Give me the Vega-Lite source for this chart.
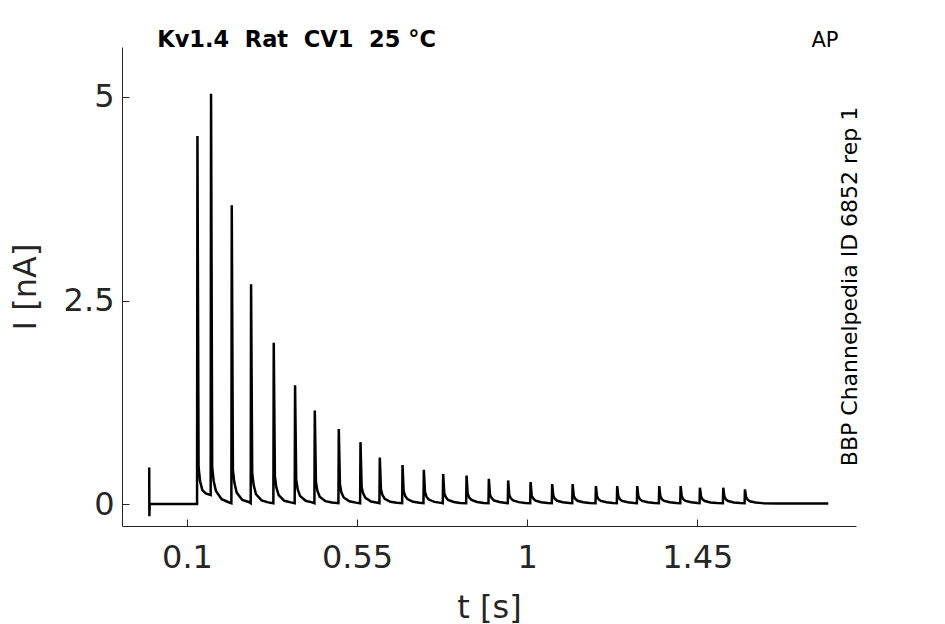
{
  "$schema": "https://vega.github.io/schema/vega-lite/v6.json",
  "autosize": {"type": "none"},
  "width": 734,
  "height": 479,
  "padding": {"left": 122, "top": 47, "right": 89, "bottom": 98},
  "background": "white",
  "config": {
    "view": {"stroke": null},
    "font": "DejaVu Sans",
    "axis": {
      "grid": false,
      "domainColor": "#262626",
      "domainWidth": 1,
      "tickColor": "#262626",
      "tickSize": -7,
      "tickWidth": 1,
      "labelColor": "#262626",
      "labelFont": "DejaVu Sans",
      "labelFontSize": 32,
      "titleFont": "DejaVu Sans",
      "titleFontSize": 32,
      "titleFontWeight": "normal",
      "titleColor": "#262626"
    }
  },
  "layer": [
    {
      "data": {"values": [
        {"t": 0.0, "i": 0.45}, {"t": 0.0004, "i": -0.15}, {"t": 0.0012, "i": 0.0},
        {"t": 0.1266, "i": 0.0},
        {"t": 0.1276, "i": 4.52}, {"t": 0.1306, "i": 0.45}, {"t": 0.1346, "i": 0.28}, {"t": 0.1406, "i": 0.17}, {"t": 0.1496, "i": 0.13}, {"t": 0.1626, "i": 0.11},
        {"t": 0.1636, "i": 5.04}, {"t": 0.1666, "i": 0.45}, {"t": 0.1706, "i": 0.28}, {"t": 0.1766, "i": 0.16}, {"t": 0.1916, "i": 0.06}, {"t": 0.2086, "i": 0.025}, {"t": 0.2174, "i": 0.01},
        {"t": 0.2184, "i": 3.67}, {"t": 0.2214, "i": 0.42}, {"t": 0.2254, "i": 0.26}, {"t": 0.2314, "i": 0.14}, {"t": 0.2464, "i": 0.05}, {"t": 0.2634, "i": 0.025}, {"t": 0.2685, "i": 0.01},
        {"t": 0.2695, "i": 2.70}, {"t": 0.2725, "i": 0.38}, {"t": 0.2765, "i": 0.23}, {"t": 0.2825, "i": 0.12}, {"t": 0.2975, "i": 0.045}, {"t": 0.3145, "i": 0.02}, {"t": 0.3285, "i": 0.01},
        {"t": 0.3295, "i": 1.98}, {"t": 0.3325, "i": 0.34}, {"t": 0.3365, "i": 0.2}, {"t": 0.3425, "i": 0.11}, {"t": 0.3575, "i": 0.04}, {"t": 0.3745, "i": 0.02}, {"t": 0.3849, "i": 0.01},
        {"t": 0.3859, "i": 1.46}, {"t": 0.3889, "i": 0.3}, {"t": 0.3929, "i": 0.18}, {"t": 0.3989, "i": 0.1}, {"t": 0.4139, "i": 0.04}, {"t": 0.4309, "i": 0.02}, {"t": 0.4371, "i": 0.01},
        {"t": 0.4381, "i": 1.15}, {"t": 0.4411, "i": 0.27}, {"t": 0.4451, "i": 0.16}, {"t": 0.4511, "i": 0.09}, {"t": 0.4661, "i": 0.035}, {"t": 0.4831, "i": 0.018}, {"t": 0.5006, "i": 0.01},
        {"t": 0.5016, "i": 0.92}, {"t": 0.5046, "i": 0.24}, {"t": 0.5086, "i": 0.14}, {"t": 0.5146, "i": 0.08}, {"t": 0.5296, "i": 0.033}, {"t": 0.5466, "i": 0.017}, {"t": 0.5580, "i": 0.01},
        {"t": 0.5590, "i": 0.76}, {"t": 0.5620, "i": 0.21}, {"t": 0.5660, "i": 0.13}, {"t": 0.5720, "i": 0.075}, {"t": 0.5870, "i": 0.03}, {"t": 0.6040, "i": 0.016}, {"t": 0.6091, "i": 0.01},
        {"t": 0.6101, "i": 0.57}, {"t": 0.6131, "i": 0.18}, {"t": 0.6171, "i": 0.11}, {"t": 0.6231, "i": 0.065}, {"t": 0.6381, "i": 0.028}, {"t": 0.6551, "i": 0.015}, {"t": 0.6692, "i": 0.01},
        {"t": 0.6702, "i": 0.48}, {"t": 0.6732, "i": 0.16}, {"t": 0.6772, "i": 0.1}, {"t": 0.6832, "i": 0.06}, {"t": 0.6982, "i": 0.027}, {"t": 0.7152, "i": 0.015}, {"t": 0.7256, "i": 0.01},
        {"t": 0.7266, "i": 0.42}, {"t": 0.7296, "i": 0.15}, {"t": 0.7336, "i": 0.09}, {"t": 0.7396, "i": 0.055}, {"t": 0.7546, "i": 0.026}, {"t": 0.7716, "i": 0.014}, {"t": 0.7767, "i": 0.01},
        {"t": 0.7777, "i": 0.37}, {"t": 0.7807, "i": 0.13}, {"t": 0.7847, "i": 0.085}, {"t": 0.7907, "i": 0.05}, {"t": 0.8057, "i": 0.025}, {"t": 0.8227, "i": 0.014}, {"t": 0.8386, "i": 0.01},
        {"t": 0.8396, "i": 0.35}, {"t": 0.8426, "i": 0.125}, {"t": 0.8466, "i": 0.08}, {"t": 0.8526, "i": 0.05}, {"t": 0.8676, "i": 0.025}, {"t": 0.8846, "i": 0.013}, {"t": 0.8976, "i": 0.01},
        {"t": 0.8986, "i": 0.31}, {"t": 0.9016, "i": 0.115}, {"t": 0.9056, "i": 0.075}, {"t": 0.9116, "i": 0.045}, {"t": 0.9266, "i": 0.024}, {"t": 0.9436, "i": 0.013}, {"t": 0.9487, "i": 0.01},
        {"t": 0.9497, "i": 0.29}, {"t": 0.9527, "i": 0.11}, {"t": 0.9567, "i": 0.07}, {"t": 0.9627, "i": 0.045}, {"t": 0.9777, "i": 0.023}, {"t": 0.9947, "i": 0.013}, {"t": 1.0080, "i": 0.01},
        {"t": 1.0090, "i": 0.27}, {"t": 1.0120, "i": 0.105}, {"t": 1.0160, "i": 0.068}, {"t": 1.0220, "i": 0.042}, {"t": 1.0370, "i": 0.022}, {"t": 1.0540, "i": 0.012}, {"t": 1.0652, "i": 0.01},
        {"t": 1.0662, "i": 0.245}, {"t": 1.0692, "i": 0.1}, {"t": 1.0732, "i": 0.065}, {"t": 1.0792, "i": 0.04}, {"t": 1.0942, "i": 0.022}, {"t": 1.1112, "i": 0.012}, {"t": 1.1192, "i": 0.01},
        {"t": 1.1202, "i": 0.245}, {"t": 1.1232, "i": 0.1}, {"t": 1.1272, "i": 0.065}, {"t": 1.1332, "i": 0.04}, {"t": 1.1482, "i": 0.022}, {"t": 1.1652, "i": 0.012}, {"t": 1.1808, "i": 0.01},
        {"t": 1.1818, "i": 0.22}, {"t": 1.1848, "i": 0.095}, {"t": 1.1888, "i": 0.06}, {"t": 1.1948, "i": 0.038}, {"t": 1.2098, "i": 0.021}, {"t": 1.2268, "i": 0.012}, {"t": 1.2372, "i": 0.01},
        {"t": 1.2382, "i": 0.22}, {"t": 1.2412, "i": 0.095}, {"t": 1.2452, "i": 0.06}, {"t": 1.2512, "i": 0.038}, {"t": 1.2662, "i": 0.021}, {"t": 1.2832, "i": 0.012}, {"t": 1.2902, "i": 0.01},
        {"t": 1.2912, "i": 0.22}, {"t": 1.2942, "i": 0.095}, {"t": 1.2982, "i": 0.06}, {"t": 1.3042, "i": 0.038}, {"t": 1.3192, "i": 0.021}, {"t": 1.3362, "i": 0.012}, {"t": 1.3484, "i": 0.01},
        {"t": 1.3494, "i": 0.22}, {"t": 1.3524, "i": 0.095}, {"t": 1.3564, "i": 0.06}, {"t": 1.3624, "i": 0.038}, {"t": 1.3774, "i": 0.021}, {"t": 1.3944, "i": 0.012}, {"t": 1.4050, "i": 0.01},
        {"t": 1.4060, "i": 0.22}, {"t": 1.4090, "i": 0.095}, {"t": 1.4130, "i": 0.06}, {"t": 1.4190, "i": 0.038}, {"t": 1.4340, "i": 0.021}, {"t": 1.4510, "i": 0.012}, {"t": 1.4561, "i": 0.01},
        {"t": 1.4571, "i": 0.2}, {"t": 1.4601, "i": 0.09}, {"t": 1.4641, "i": 0.057}, {"t": 1.4701, "i": 0.036}, {"t": 1.4851, "i": 0.02}, {"t": 1.5021, "i": 0.012}, {"t": 1.5178, "i": 0.01},
        {"t": 1.5188, "i": 0.2}, {"t": 1.5218, "i": 0.09}, {"t": 1.5258, "i": 0.057}, {"t": 1.5318, "i": 0.036}, {"t": 1.5468, "i": 0.02}, {"t": 1.5638, "i": 0.012}, {"t": 1.5752, "i": 0.01},
        {"t": 1.5762, "i": 0.18}, {"t": 1.5792, "i": 0.085}, {"t": 1.5832, "i": 0.054}, {"t": 1.5892, "i": 0.034}, {"t": 1.6042, "i": 0.02}, {"t": 1.6212, "i": 0.011}, {"t": 1.66, "i": 0.007}, {"t": 1.7967, "i": 0.005}
      ]},
      "mark": {"type": "line", "color": "black", "strokeWidth": 2.5, "strokeJoin": "miter", "clip": true},
      "encoding": {
        "x": {
          "field": "t", "type": "quantitative", "sort": null,
          "scale": {"domain": [-0.072, 1.87], "nice": false, "zero": false},
          "axis": {"values": [0.1, 0.55, 1, 1.45], "format": ".3~g", "title": "t [s]", "labelPadding": 23, "titlePadding": 19}
        },
        "y": {
          "field": "i", "type": "quantitative",
          "scale": {"domain": [-0.27, 5.614], "nice": false, "zero": false},
          "axis": {"values": [0, 2.5, 5], "format": ".2~g", "title": "I [nA]", "labelPadding": 15, "titlePadding": 21}
        }
      }
    },
    {
      "data": {"values": [{"label": "Kv1.4\u00a0\u00a0Rat\u00a0\u00a0CV1\u00a0\u00a025\u00a0°C", "t": 0.0212, "i": 5.614}]},
      "mark": {"type": "text", "fontSize": 22.5, "font": "DejaVu Sans", "fontWeight": "bold", "color": "black", "align": "left", "baseline": "alphabetic"},
      "encoding": {
        "x": {"field": "t", "type": "quantitative"},
        "y": {"field": "i", "type": "quantitative"},
        "text": {"field": "label"}
      }
    },
    {
      "data": {"values": [{"label": "AP", "t": 1.788, "i": 5.614}]},
      "mark": {"type": "text", "fontSize": 21, "font": "DejaVu Sans", "color": "black", "align": "center", "baseline": "alphabetic"},
      "encoding": {
        "x": {"field": "t", "type": "quantitative"},
        "y": {"field": "i", "type": "quantitative"},
        "text": {"field": "label"}
      }
    },
    {
      "data": {"values": [{"label": "BBP Channelpedia ID 6852 rep 1", "t": 1.854, "i": 2.672}]},
      "mark": {"type": "text", "fontSize": 22, "font": "DejaVu Sans", "color": "black", "align": "center", "baseline": "middle", "angle": 270},
      "encoding": {
        "x": {"field": "t", "type": "quantitative"},
        "y": {"field": "i", "type": "quantitative"},
        "text": {"field": "label"}
      }
    }
  ]
}
